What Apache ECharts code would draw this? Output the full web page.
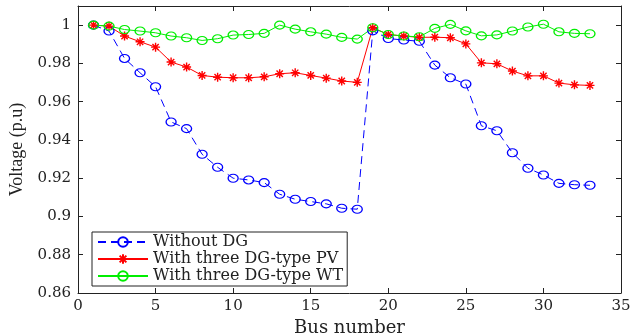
<!DOCTYPE html>
<html>
<head>
<meta charset="utf-8">
<script src="https://cdn.jsdelivr.net/npm/echarts@6/dist/echarts.min.js"></script>
<style>
  html, body { margin: 0; padding: 0; background: #fff; }
  #chart { width: 630px; height: 333px; }
</style>
</head>
<body>
<div id="chart"></div>
<script>
// bus numbers 1..33
var buses = [1, 2, 3, 4, 5, 6, 7, 8, 9, 10, 11, 12, 13, 14, 15, 16, 17, 18, 19, 20, 21, 22, 23, 24, 25, 26, 27, 28, 29, 30, 31, 32, 33];
var noDG = [1.0, 0.9969, 0.9826, 0.9751, 0.9678, 0.9494, 0.9459, 0.9325, 0.9257, 0.9200, 0.9191, 0.9177, 0.9116, 0.9090, 0.9078, 0.9066, 0.9043, 0.9038,
  0.9970, 0.9930, 0.9922, 0.9916, 0.9791, 0.9725, 0.9692, 0.9474, 0.9448, 0.9333, 0.9252, 0.9217, 0.9173, 0.9166, 0.9163];
var withPV = [1.0, 0.9995, 0.9943, 0.9913, 0.9885, 0.9807, 0.9781, 0.9737, 0.9728, 0.9725, 0.9725, 0.9730, 0.9746, 0.9751, 0.9737, 0.9723, 0.9708, 0.9701,
  0.9986, 0.9951, 0.9943, 0.9936, 0.9937, 0.9934, 0.9902, 0.9803, 0.9798, 0.9760, 0.9735, 0.9735, 0.9697, 0.9688, 0.9685];
var withWT = [1.0, 0.9995, 0.9977, 0.9969, 0.9960, 0.9943, 0.9934, 0.9920, 0.9929, 0.9948, 0.9951, 0.9957, 1.0000, 0.9979, 0.9965, 0.9953, 0.9936, 0.9927,
  0.9986, 0.9951, 0.9943, 0.9939, 0.9983, 1.0004, 0.9970, 0.9944, 0.9949, 0.9969, 0.9990, 1.0005, 0.9965, 0.9957, 0.9955];
var seriesNames = ["Without DG", "With three DG-type PV", "With three DG-type WT"];

function pairs(vals) {
  return buses.map(function (b, i) { return [b, vals[i]]; });
}

var serif = "DejaVu Serif";
var asterisk = "path://M0,5L10,5M5,0L5,10M1.5,1.5L8.5,8.5M8.5,1.5L1.5,8.5";

var chart = echarts.init(document.getElementById("chart"));

function boxAxis() {
  return {
    axisLine: { show: true, onZero: false, lineStyle: { color: "#222", width: 1 } },
    axisTick: { show: true, inside: true, length: 5, lineStyle: { color: "#222" } },
    splitLine: { show: false }
  };
}

chart.setOption({
  animation: false,
  backgroundColor: "#fff",
  grid: { left: 78, right: 9, top: 6, bottom: 40, outerBoundsMode: "none" },
  xAxis: [
    Object.assign(boxAxis(), {
      type: "value", min: 0, max: 35, interval: 5,
      name: "Bus number", nameLocation: "middle", nameGap: 17,
      nameTextStyle: { fontFamily: serif, fontSize: 18, color: "#222" },
      axisLabel: { fontFamily: serif, fontSize: 15, color: "#222", margin: 6 }
    }),
    Object.assign(boxAxis(), {
      type: "value", position: "top", min: 0, max: 35, interval: 5,
      axisLabel: { show: false }
    })
  ],
  yAxis: [
    Object.assign(boxAxis(), {
      type: "value", min: 0.86, max: 1.01, interval: 0.02,
      name: "Voltage (p.u)", nameLocation: "middle", nameGap: 46,
      nameTextStyle: { fontFamily: "Liberation Serif", fontSize: 18, color: "#222" },
      axisLabel: {
        fontFamily: serif, fontSize: 15, color: "#222", margin: 7, showMaxLabel: false,
        formatter: function (v) { return String(+v.toFixed(2)); }
      }
    }),
    Object.assign(boxAxis(), {
      type: "value", position: "right", min: 0.86, max: 1.01, interval: 0.02,
      axisLabel: { show: false }
    })
  ],
  legend: {
    left: 92, top: 232,
    orient: "vertical",
    itemWidth: 50, itemHeight: 12, itemGap: 1, itemTextGap: 4,
    padding: [2, 4, 2, 5],
    borderColor: "#222", borderWidth: 1, backgroundColor: "#fff",
    textStyle: { fontFamily: serif, fontSize: 16, color: "#222", lineHeight: 16 },
    data: seriesNames
  },
  series: [
    {
      name: seriesNames[0], type: "line", data: pairs(noDG),
      symbol: "circle", symbolSize: [10, 8],
      itemStyle: { color: "rgba(0,0,0,0)", borderColor: "#0000ff", borderWidth: 1.2 },
      lineStyle: { color: "#0000ff", width: 1, type: [8, 5] },
      emphasis: { disabled: true }
    },
    {
      name: seriesNames[1], type: "line", data: pairs(withPV),
      symbol: asterisk, symbolSize: [9, 9],
      itemStyle: { color: "#ff0000", borderColor: "#ff0000", borderWidth: 1.4 },
      lineStyle: { color: "#ff0000", width: 1 },
      emphasis: { disabled: true }
    },
    {
      name: seriesNames[2], type: "line", data: pairs(withWT),
      symbol: "circle", symbolSize: [10, 8],
      itemStyle: { color: "rgba(0,0,0,0)", borderColor: "#00ee00", borderWidth: 1.2 },
      lineStyle: { color: "#00ee00", width: 1 },
      emphasis: { disabled: true }
    }
  ]
});
</script>
</body>
</html>
